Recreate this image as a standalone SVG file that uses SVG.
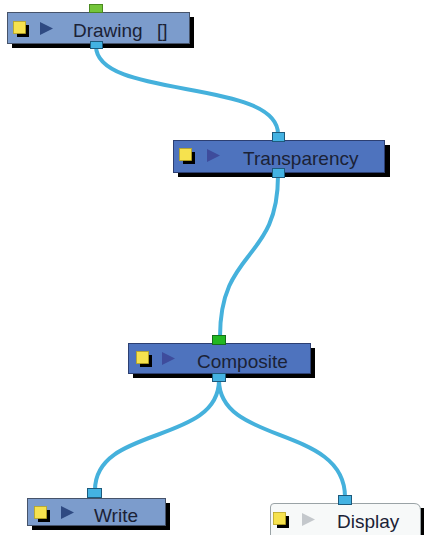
<svg xmlns="http://www.w3.org/2000/svg" width="424" height="535" viewBox="0 0 424 535">
<style>
.shadow{fill:#000}
.light{fill:#7c9ccc;stroke:#46536a;stroke-width:1}
.dark{fill:#4e73be;stroke:#2c3f72;stroke-width:1}
.disp{fill:#f7f9f9;stroke:#9aa3a6;stroke-width:1}
.lbl{font-family:"Liberation Sans",Arial,sans-serif;font-size:19px;fill:#1b2236}
.ysh{fill:#000}
.yel{fill:#f6e24e;stroke:#b8a420;stroke-width:0.8}
.triL{fill:#2f4a82}
.triD{fill:#3e4c9c}
.triG{fill:#c4c8cc}
.pin{fill:#43b2e2;stroke:#1d5a7c;stroke-width:1}
.gin{fill:#22b822;stroke:#14701a;stroke-width:1}
.gin2{fill:#74c63a;stroke:#4a8a20;stroke-width:1}
.wire{fill:none;stroke:#45b1dc;stroke-width:4;stroke-linecap:round}
</style>
<rect width="424" height="535" fill="#fff"/>
<g id="connectors">
<path class="wire" d="M96,46 C96,100 278,78 278,134"/>
<path class="wire" d="M278,176 C278,262 220,248 220,337"/>
<path class="wire" d="M219,380 C219,445 95,425 95,490"/>
<path class="wire" d="M219,380 C219,445 345,425 345,497"/>
</g>
<g id="node-drawing">
<rect class="shadow" x="12" y="17" width="182" height="31"/>
<rect class="light" x="7.5" y="12.5" width="182" height="31"/>
<rect class="ysh" x="17" y="25" width="12" height="12"/>
<rect class="yel" x="13.5" y="21.5" width="12" height="12"/>
<path class="triL" d="M40,22 L53,28.5 L40,35 Z"/>
<text class="lbl" x="73" y="37">Drawing<tspan x="157">[]</tspan></text>
<rect class="gin2" x="89.5" y="4.5" width="13" height="8"/>
<rect class="pin" x="90.5" y="41.5" width="12" height="7"/>
</g>
<g id="node-transparency">
<rect class="shadow" x="178" y="145" width="212" height="32"/>
<rect class="dark" x="173.5" y="140.5" width="211" height="32"/>
<rect class="ysh" x="183" y="152" width="12" height="12"/>
<rect class="yel" x="179.5" y="148.5" width="12" height="12"/>
<path class="triD" d="M207,149 L220,155.5 L207,162 Z"/>
<text class="lbl" x="243" y="165">Transparency</text>
<rect class="pin" x="272.5" y="132.5" width="12" height="9"/>
<rect class="pin" x="272.5" y="168.5" width="12" height="9"/>
</g>
<g id="node-composite">
<rect class="shadow" x="133" y="348" width="182" height="30"/>
<rect class="dark" x="128.5" y="343.5" width="182" height="30"/>
<rect class="ysh" x="140" y="355" width="12" height="12"/>
<rect class="yel" x="136.5" y="351.5" width="12" height="12"/>
<path class="triD" d="M162,352 L175,358.5 L162,365 Z"/>
<text class="lbl" x="197" y="368">Composite</text>
<rect class="gin" x="212.5" y="335.5" width="13" height="9"/>
<rect class="pin" x="212.5" y="373.5" width="13" height="8"/>
</g>
<g id="node-write">
<rect class="shadow" x="32" y="503" width="138" height="27"/>
<rect class="light" x="27.5" y="498.5" width="138" height="27"/>
<rect class="ysh" x="38" y="510" width="12" height="12"/>
<rect class="yel" x="34.5" y="506.5" width="12" height="12"/>
<path class="triL" d="M61,506 L74,512.5 L61,519 Z"/>
<text class="lbl" x="94" y="522">Write</text>
<rect class="pin" x="87.5" y="488.5" width="14" height="9"/>
</g>
<g id="node-display">
<rect class="shadow" x="275" y="508" width="152" height="30"/>
<path class="disp" d="M270.5,535 L270.5,507 Q270.5,503.5 274,503.5 L414,503.5 Q420.5,503.5 420.5,510 L420.5,535"/>
<rect class="ysh" x="277" y="516" width="12" height="12"/>
<rect class="yel" x="273.5" y="512.5" width="12" height="12"/>
<path class="triG" d="M302,513 L315,519.5 L302,526 Z"/>
<text class="lbl" x="337" y="528">Display</text>
<rect class="pin" x="338.5" y="495.5" width="13" height="9"/>
</g>
</svg>
